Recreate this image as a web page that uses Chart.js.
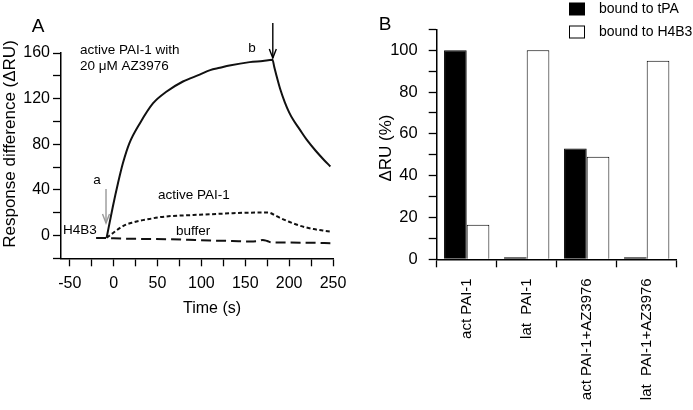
<!DOCTYPE html>
<html><head><meta charset="utf-8">
<script src="https://cdn.jsdelivr.net/npm/chart.js@4.4.1/dist/chart.umd.min.js"></script>
<style>
html,body{margin:0;padding:0;background:#fff;width:693px;height:410px;overflow:hidden;}
#wa{position:absolute;left:0;top:0;width:360px;height:410px;}
#wb{position:absolute;left:360px;top:0;width:333px;height:410px;}
</style></head><body>
<div id="wa"><canvas id="ca"></canvas></div>
<div id="wb"><canvas id="cb"></canvas></div>
<script>
const FONT = "'Liberation Sans', Arial, sans-serif";

// ---------- Panel A data (time in s, response in ΔRU) ----------
const azTime = [-8, -1, 5, 10.6, 18, 30, 45, 60, 79, 98, 110, 121, 132, 155, 170, 181, 183, 186, 190, 195, 200, 205, 212, 220, 230, 240, 247];
const azResp = [-2, 25, 46, 63.5, 81, 98.5, 116, 126, 135, 141, 145, 147, 149, 152, 153, 154, 148, 139, 128, 117, 108, 101, 93, 84, 74.5, 66, 60.5];
const actTime = [-8, -1, 7, 14, 22, 30, 41, 50, 60, 80, 98, 120, 136, 155, 176, 182, 190, 200, 209, 218, 228, 238, 247];
const actResp = [-2, 2, 6.5, 9.5, 11.5, 13, 14.5, 15.8, 16.7, 17.6, 18.2, 19, 19.6, 20, 20.2, 18.5, 15.3, 12, 9.4, 7.3, 5.6, 4.4, 3.5];
const bufTime = [-20, -8, 0, 30, 60, 85, 110, 135, 155, 165, 170, 175, 180, 200, 225, 247];
const bufResp = [-2.3, -2.3, -2.5, -3, -3.2, -3.8, -4.4, -4.8, -5.2, -4.8, -3.9, -4.8, -6, -6.2, -6.4, -6.7];
const seriesNamesA = ['active PAI-1 with 20 μM AZ3976', 'active PAI-1', 'buffer'];
const xTicksA = [-50, -25, 0, 25, 50, 75, 100, 125, 150, 175, 200, 225, 250];
const yTicksA = [-20, 0, 20, 40, 60, 80, 100, 120, 140, 160];

// ---------- Panel B data (ΔRU %) ----------
const categoriesB = ['act PAI-1', 'lat  PAI-1', 'act PAI-1+AZ3976', 'lat  PAI-1+AZ3976'];
const tpaValues = [100, 1, 53, 1];
const h4b3Values = [16.5, 100, 49, 95];
const seriesNamesB = ['bound to tPA', 'bound to H4B3'];
const yTicksB = [0, 10, 20, 30, 40, 50, 60, 70, 80, 90, 100, 110];

const pts = (xs, ys) => xs.map((x, i) => ({x: x, y: ys[i]}));

function arrow(ctx, x, y1, y2, color) {
  ctx.save();
  ctx.strokeStyle = color; ctx.lineWidth = 1.4;
  ctx.beginPath(); ctx.moveTo(x, y1); ctx.lineTo(x, y2); ctx.stroke();
  ctx.beginPath(); ctx.moveTo(x - 3.5, y2 - 9); ctx.lineTo(x, y2); ctx.lineTo(x + 3.5, y2 - 9); ctx.stroke();
  ctx.restore();
}

const annotA = {
  id: 'annotA',
  afterDraw(chart) {
    const ctx = chart.ctx;
    const xs = chart.scales.x;
    ctx.save();
    ctx.fillStyle = '#000';
    ctx.textBaseline = 'middle';
    ctx.textAlign = 'center';
    ctx.font = '19px ' + FONT;
    ctx.fillText('A', 38, 27);
    ctx.font = '16px ' + FONT;
    ctx.fillText('Time (s)', 212, 309);
    ctx.save(); ctx.translate(10, 144); ctx.rotate(-Math.PI / 2);
    ctx.font = '17px ' + FONT;
    ctx.fillText('Response difference (ΔRU)', 0, 0);
    ctx.restore();
    ctx.font = '13.5px ' + FONT;
    ctx.textAlign = 'left';
    ctx.fillText('active PAI-1 with', 80, 50);
    ctx.fillText('20 μM AZ3976', 80, 66);
    ctx.fillText('active PAI-1', 158, 195);
    ctx.fillText('buffer', 176, 231);
    ctx.fillText('H4B3', 63, 230);
    ctx.textAlign = 'center';
    ctx.fillText('a', 97, 180);
    ctx.fillText('b', 252, 48);
    arrow(ctx, xs.getPixelForValue(-8.7), 189, 223, '#999');
    arrow(ctx, xs.getPixelForValue(181.4), 23, 58, '#000');
    ctx.restore();
  }
};

const annotB = {
  id: 'annotB',
  afterDraw(chart) {
    const ctx = chart.ctx;
    ctx.save();
    ctx.fillStyle = '#000';
    ctx.textBaseline = 'middle';
    ctx.textAlign = 'center';
    ctx.font = '19px ' + FONT;
    ctx.fillText('B', 25, 25);
    ctx.save(); ctx.translate(26, 148); ctx.rotate(-Math.PI / 2);
    ctx.font = '17px ' + FONT;
    ctx.fillText('ΔRU (%)', 0, 0);
    ctx.restore();
    // legend
    ctx.font = '14px ' + FONT;
    ctx.textAlign = 'left';
    chart.data.datasets.forEach((ds, i) => {
      const y = 9 + i * 23;
      ctx.fillStyle = ds.backgroundColor;
      ctx.fillRect(209.5, y - 6, 15, 12);
      ctx.strokeStyle = '#000'; ctx.lineWidth = 1;
      ctx.strokeRect(209.5, y - 6, 15, 12);
      ctx.fillStyle = '#000';
      ctx.fillText(ds.label, 239, y);
    });
    ctx.restore();
  }
};

new Chart(document.getElementById('ca'), {
  type: 'line',
  data: {
    datasets: [
      {label: seriesNamesA[0], data: pts(azTime, azResp), borderColor: '#111', borderWidth: 2, pointRadius: 0, cubicInterpolationMode: 'monotone', fill: false},
      {label: seriesNamesA[1], data: pts(actTime, actResp), borderColor: '#111', borderWidth: 2, borderDash: [4, 2.5], pointRadius: 0, cubicInterpolationMode: 'monotone', fill: false},
      {label: seriesNamesA[2], data: pts(bufTime, bufResp), borderColor: '#111', borderWidth: 2, borderDash: [10, 5], pointRadius: 0, cubicInterpolationMode: 'monotone', fill: false}
    ]
  },
  options: {
    responsive: true, maintainAspectRatio: false, animation: false, devicePixelRatio: 1,
    layout: {padding: {left: 0, right: 27, top: 53, bottom: 91.7}},
    plugins: {legend: {display: false}, tooltip: {enabled: false}},
    scales: {
      x: {
        type: 'linear', min: -60, max: 250,
        afterBuildTicks: s => { s.ticks = xTicksA.map(v => ({value: v})); },
        afterFit: s => { s.height = 60; },
        ticks: {autoSkip: false, maxRotation: 0, color: '#000', padding: 8, font: {size: 16, family: FONT},
          callback: v => (v % 50 === 0 ? String(v) : '')},
        grid: {drawOnChartArea: false, drawTicks: true, tickLength: 8, tickColor: '#000', tickWidth: 1.3},
        border: {display: true, color: '#000', width: 1.5}
      },
      y: {
        type: 'linear', min: -20, max: 160,
        afterBuildTicks: s => { s.ticks = yTicksA.map(v => ({value: v})); },
        afterFit: s => { s.width = 61; },
        ticks: {autoSkip: false, color: '#000', padding: 3, font: {size: 16, family: FONT},
          callback: v => (v % 40 === 0 ? String(v) : '')},
        grid: {drawOnChartArea: false, drawTicks: true, tickLength: 8, tickColor: '#000', tickWidth: 1.3},
        border: {display: true, color: '#000', width: 1.5}
      }
    }
  },
  plugins: [annotA]
});

new Chart(document.getElementById('cb'), {
  type: 'bar',
  data: {
    labels: categoriesB,
    datasets: [
      {label: seriesNamesB[0], data: tpaValues, backgroundColor: '#000', borderColor: '#000', borderWidth: 1, categoryPercentage: 0.755, barPercentage: 1},
      {label: seriesNamesB[1], data: h4b3Values, backgroundColor: '#fff', borderColor: '#000', borderWidth: 1, categoryPercentage: 0.755, barPercentage: 1}
    ]
  },
  options: {
    responsive: true, maintainAspectRatio: false, animation: false, devicePixelRatio: 1,
    layout: {padding: {left: 0, right: 16.3, top: 29.3, bottom: 0}},
    plugins: {legend: {display: false}, tooltip: {enabled: false}},
    scales: {
      x: {
        afterFit: s => { s.height = 150.7; },
        ticks: {autoSkip: false, minRotation: 90, maxRotation: 90, color: '#000', padding: 11, font: {size: 15, family: FONT}},
        grid: {drawOnChartArea: false, drawTicks: true, tickLength: 8, tickColor: '#000', tickWidth: 1.3, offset: true},
        border: {display: true, color: '#000', width: 1.5}
      },
      y: {
        min: 0, max: 110,
        afterBuildTicks: s => { s.ticks = yTicksB.map(v => ({value: v})); },
        afterFit: s => { s.width = 76.7; },
        ticks: {autoSkip: false, color: '#000', padding: 11, font: {size: 16.5, family: FONT},
          callback: v => (v % 20 === 0 && v <= 100 ? String(v) : '')},
        grid: {drawOnChartArea: false, drawTicks: true, tickLength: 8, tickColor: '#000', tickWidth: 1.3},
        border: {display: true, color: '#000', width: 1.5}
      }
    }
  },
  plugins: [annotB]
});
</script>
</body></html>
